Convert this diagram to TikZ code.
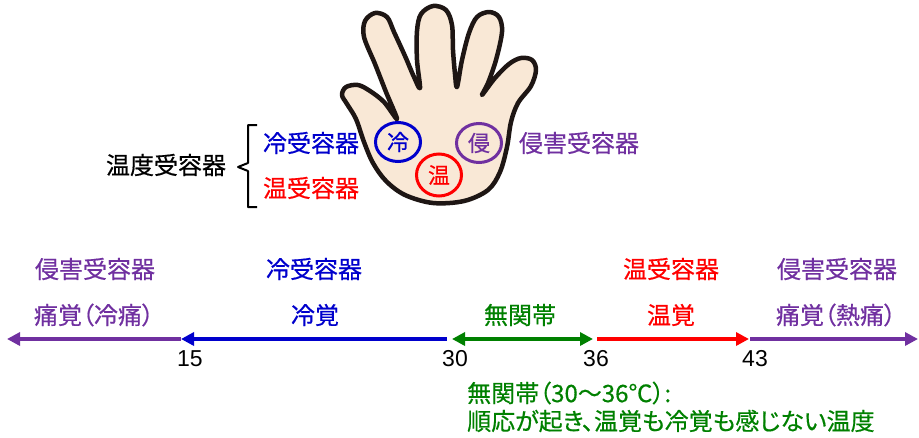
\documentclass[tikz,border=0pt]{standalone}
\usepackage{fontspec}
\setmainfont[RawFeature=+palt, FakeBold=0.5]{Noto Sans CJK JP}
\newfontfamily\numfont{Liberation Sans}
\usetikzlibrary{arrows.meta,shapes.geometric}
\definecolor{cblue}{RGB}{0,0,204}
\definecolor{cpurple}{RGB}{112,48,160}
\definecolor{cred}{RGB}{255,0,0}
\definecolor{cgreen}{RGB}{0,128,0}
\definecolor{skin}{RGB}{249,232,214}
\definecolor{outline}{RGB}{30,22,20}
\tikzset{
  lbl/.style={inner sep=0pt, font=\fontsize{24}{28}\selectfont},
  num/.style={inner sep=0pt, font=\numfont\fontsize{23}{27}\selectfont},
  ring/.style={ellipse, draw, line width=3pt, minimum width=45pt, minimum height=39pt, inner sep=0pt, font=\fontsize{22}{26}\selectfont},
  templine/.style={line width=4pt, -{Triangle[length=13pt,width=13pt]}},
  band/.style={line width=4pt, {Triangle[length=13pt,width=13pt]}-{Triangle[length=13pt,width=13pt]}}
}
\begin{document}
\begin{tikzpicture}[x=1pt,y=-1pt]
\useasboundingbox (0,0) rectangle (919,437);

% open hand
\draw[line width=4.5pt, draw=outline, fill=skin, line join=round]
  plot[smooth cycle, tension=0.55] coordinates {
    (346,87) (358,85) (370,91) (384,102) (397,119)
    (386,92) (375,64) (364,37) (365,21) (375,13) (387,17) (394,32) (405,56) (414,77) (420,88)
    (417,60) (417,31) (421,14) (433,6) (446,10) (452,25) (453,50) (455,74) (457,87)
    (462,60) (469,33) (477,17) (489,12) (499,17) (502,32) (496,60) (488,83) (482,95)
    (495,78) (509,64) (521,58) (532,60) (536,70) (531,86) (518,103) (511,122)
    (507,147) (500,172) (488,190) (464,201) (433,203) (405,195) (386,181)
    (373,163) (364,142) (356,119) (347,104) (342,95)
  };

% receptor marks on the palm
\node[ring, draw=cblue, text=cblue] (cold) at (398,142) {冷};
\node[ring, draw=cpurple, text=cpurple] (noci) at (479,143) {侵};
\node[ring, draw=cred, text=cred, minimum height=42pt] (warm) at (439,175) {温};

% receptor labels
\node[lbl, text=cblue] (coldlbl) at (311,143) {冷受容器};
\node[lbl, text=cred] (warmlbl) at (311,188) {温受容器};
\node[lbl, text=cpurple] (nocilbl) at (579,143) {侵害受容器};
\node[lbl] (thermo) at (166,165) {温度受容器};

% grouping bracket
\coordinate (brtop) at (257,125);
\coordinate (brmid) at (238,167);
\coordinate (brbot) at (257,207);
\draw[line width=2pt, line join=round]
  (brtop) -- (248,125) -- (248,163) -- (brmid) -- (248,171) -- (248,207) -- (brbot);

% temperature scale
\coordinate (lend) at (7,339);
\coordinate (p15) at (181,339);
\coordinate (p30) at (449,339);
\coordinate (p36) at (595,339);
\coordinate (p43) at (749,339);
\coordinate (rend) at (918,339);

\draw[templine, cpurple] (p15) -- (lend);
\draw[templine, cblue] ([xshift=-2pt]p30) -- (p15);
\draw[band, cgreen] ([xshift=3pt]p30) -- ([xshift=-2pt]p36);
\draw[templine, cred] ([xshift=2pt]p36) -- (p43);
\draw[templine, cpurple] ([xshift=1pt]p43) -- (rend);

\node[num] (n15) at (190,359) {15};
\node[num] (n30) at (455,359) {30};
\node[num] (n36) at (596,359) {36};
\node[num] (n43) at (755,359) {43};

% receptors above the scale
\node[lbl, text=cpurple] (r1) at (95,269) {侵害受容器};
\node[lbl, text=cblue] (r2) at (314,269) {冷受容器};
\node[lbl, text=cred] (r3) at (671,269) {温受容器};
\node[lbl, text=cpurple] (r4) at (837,269) {侵害受容器};

% sensations
\node[lbl, text=cpurple] (s1) at (94,315) {痛覚（冷痛）};
\node[lbl, text=cblue] (s2) at (315,315) {冷覚};
\node[lbl, text=cgreen] (s3) at (520,315) {無関帯};
\node[lbl, text=cred] (s4) at (671,315) {温覚};
\node[lbl, text=cpurple] (s5) at (836,315) {痛覚（熱痛）};

% note on the neutral zone
\node[lbl, text=cgreen, anchor=west] (note1) at (467,393) {無関帯（30〜36℃）:};
\node[lbl, text=cgreen, anchor=west] (note2) at (467,421) {順応が起き、温覚も冷覚も感じない温度};
\end{tikzpicture}
\end{document}
